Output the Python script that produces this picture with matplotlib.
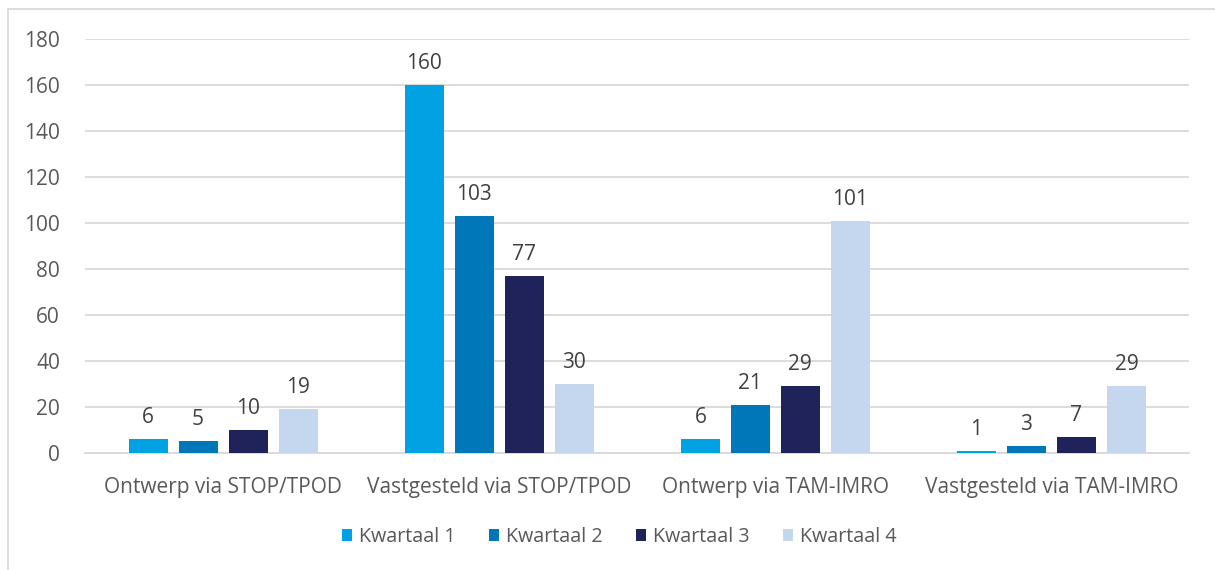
import matplotlib.pyplot as plt
from matplotlib.lines import Line2D
import numpy as np

categorieen = ["Ontwerp via STOP/TPOD", "Vastgesteld via STOP/TPOD",
               "Ontwerp via TAM-IMRO", "Vastgesteld via TAM-IMRO"]
kwartalen = ["Kwartaal 1", "Kwartaal 2", "Kwartaal 3", "Kwartaal 4"]
kwartaal1 = [6, 160, 6, 1]
kwartaal2 = [5, 103, 21, 3]
kwartaal3 = [10, 77, 29, 7]
kwartaal4 = [19, 30, 101, 29]
kleuren = ["#00A2E3", "#0077B9", "#1F2359", "#C5D7EF"]

plt.rcParams['font.family'] = ['Open Sans', 'DejaVu Sans']
tekstkleur = "#595959"

fig = plt.figure(figsize=(12.15, 5.7), dpi=100)
ax = fig.add_axes([0.07, 0.2053, 0.909, 0.7263])

x = np.arange(len(categorieen))
breedte = 0.141
stap = 0.181
reeksen = [kwartaal1, kwartaal2, kwartaal3, kwartaal4]
for i, (waarden, naam, kleur) in enumerate(zip(reeksen, kwartalen, kleuren)):
    pos = x + (i - 1.5) * stap
    bars = ax.bar(pos, waarden, breedte, color=kleur, label=naam, zorder=3)
    ax.bar_label(bars, padding=8, fontsize=15, color="#404040")

ax.set_xlim(-0.5, 3.5)
ax.set_ylim(0, 180)
ax.set_yticks(range(0, 181, 20))
ax.set_xticks(x)
ax.set_xticklabels(categorieen)
ax.tick_params(axis='both', length=0, labelsize=15, colors=tekstkleur)
ax.tick_params(axis='y', pad=18)
ax.tick_params(axis='x', pad=17)
ax.grid(axis='y', color="#D9D9D9", linewidth=1.3, zorder=0)
for s in ["top", "right", "left"]:
    ax.spines[s].set_visible(False)
ax.spines["bottom"].set_color("#D9D9D9")
ax.spines["bottom"].set_linewidth(1.3)

leg = fig.legend(loc="center", bbox_to_anchor=(0.5095, 0.058), ncol=4, frameon=False,
                 fontsize=14.2, handlelength=0.5, handleheight=0.5, handletextpad=0.35,
                 columnspacing=1.7)
for t in leg.get_texts():
    t.set_color(tekstkleur)

# rand van het grafiekvlak
fig.add_artist(Line2D([8 / 1215, 8 / 1215], [0, 1 - 9 / 570], color="#D9D9D9", linewidth=1.3))
fig.add_artist(Line2D([8 / 1215, 1], [1 - 9 / 570, 1 - 9 / 570], color="#D9D9D9", linewidth=1.3))

fig.savefig("out.png", dpi=100)
